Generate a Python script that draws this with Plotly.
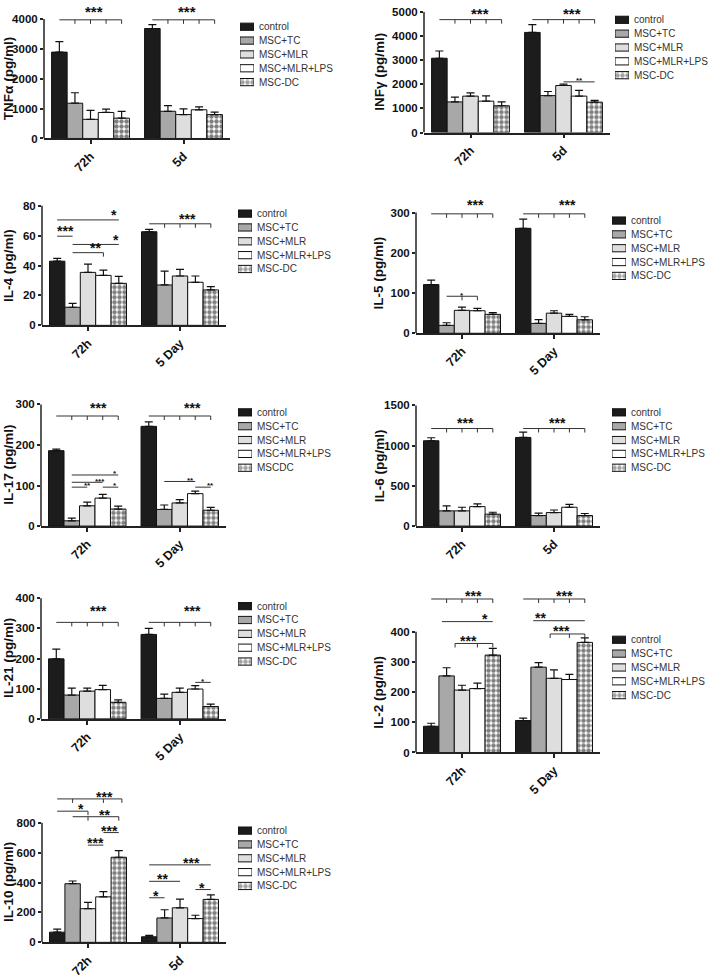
import plotly.graph_objects as go

W, H = 709, 979
FONT = "Liberation Sans, Arial, sans-serif"

# ---------------- data ----------------
SERIES = ["control", "MSC+TC", "MSC+MLR", "MSC+MLR+LPS", "MSC-DC"]
SERIES_IL17 = ["control", "MSC+TC", "MSC+MLR", "MSC+MLR+LPS", "MSCDC"]
CAT_A = ["72h", "5d"]
CAT_B = ["72h", "5 Day"]

tnfa_72h = [2890, 1180, 640, 870, 680]
tnfa_72h_sem = [350, 350, 300, 110, 230]
tnfa_5d = [3680, 910, 800, 960, 800]
tnfa_5d_sem = [130, 190, 190, 100, 80]

infg_72h = [3080, 1270, 1510, 1300, 1110]
infg_72h_sem = [300, 200, 130, 220, 160]
infg_5d = [4150, 1530, 1950, 1510, 1260]
infg_5d_sem = [320, 170, 60, 240, 70]

il4_72h = [42.9, 12.1, 35.4, 33.4, 28.1]
il4_72h_sem = [1.9, 2.6, 5.5, 3.5, 4.6]
il4_5d = [62.6, 27.0, 33.0, 28.8, 23.7]
il4_5d_sem = [1.6, 9.3, 4.4, 4.2, 2.2]

il5_72h = [121, 19.6, 57, 56, 47]
il5_72h_sem = [11, 6.5, 8, 6, 4.5]
il5_5d = [261, 24.5, 50, 42, 33.5]
il5_5d_sem = [23, 9.5, 6, 5, 7.5]

il17_72h = [186, 13, 50, 69, 42]
il17_72h_sem = [4, 6.5, 9, 9, 7]
il17_5d = [246, 41, 57, 80, 39]
il17_5d_sem = [11, 11, 8, 6, 7]

il6_72h = [1061, 189, 189, 242, 148]
il6_72h_sem = [37, 61, 45, 33, 24]
il6_5d = [1102, 131, 168, 234, 131]
il6_5d_sem = [66, 29, 32, 36, 25]

il21_72h = [199, 79, 92, 97, 55]
il21_72h_sem = [32, 23, 10, 14, 8]
il21_5d = [280, 68, 88, 99, 41]
il21_5d_sem = [20, 14, 14, 11, 8]

il2_72h = [87, 254, 207, 212, 323]
il2_72h_sem = [10, 27, 16, 18, 22]
il2_5d = [106, 283, 246, 242, 365]
il2_5d_sem = [8, 15, 28, 17, 15]

il10_72h = [68, 392, 225, 304, 569]
il10_72h_sem = [20, 18, 42, 35, 44]
il10_5d = [37, 163, 231, 159, 287]
il10_5d_sem = [9, 55, 58, 22, 30]

# significance brackets: (group, from bar, to bar, y level, label, bars with down-ticks, label at bar, kind)
tnfa_sig = [(0, 0, 4, 3970, "***", [1, 2, 3, 4], 2.2, "big"),
            (1, 0, 4, 3970, "***", [1, 2, 3, 4], 2.2, "big")]
infg_sig = [(0, 0, 4, 4680, "***", [1, 2, 3, 4], 2.6, "big"),
            (1, 0, 4, 4680, "***", [1, 2, 3, 4], 2.55, "big"),
            (1, 2, 4, 2100, "**", [], 3.0, "small")]
il4_sig = [(0, 0, 4, 70.5, "*", [], 3.7, "big"),
           (0, 0, 1, 59.6, "***", [], 0.55, "big"),
           (0, 1, 4, 54.1, "*", [], 3.8, "big"),
           (0, 1, 3, 48.6, "**", [3], 2.5, "big"),
           (1, 0, 4, 67.9, "***", [1, 2, 3, 4], 2.5, "big")]
il5_sig = [(0, 0, 4, 297, "***", [1, 2, 3, 4], 2.85, "big"),
           (1, 0, 4, 297, "***", [1, 2, 3, 4], 2.85, "big"),
           (0, 1, 3, 92, "*", [2, 3], 2.0, "small")]
il17_sig = [(0, 0, 4, 271.5, "***", [1, 2, 3, 4], 2.75, "big"),
            (1, 0, 4, 271.5, "***", [1, 2, 3, 4], 2.8, "big"),
            (0, 1, 4, 126, "*", [], 3.8, "small"),
            (0, 1, 3, 108, "***", [], 2.8, "small"),
            (0, 1, 2, 96, "**", [], 2.0, "small"),
            (0, 3, 4, 96, "*", [], 3.8, "small"),
            (1, 1, 3, 110, "**", [], 2.7, "small"),
            (1, 3, 4, 96, "**", [], 4.0, "small")]
il6_sig = [(0, 0, 4, 1213, "***", [1, 2, 3, 4], 2.2, "big"),
           (1, 0, 4, 1213, "***", [1, 2, 3, 4], 2.2, "big")]
il21_sig = [(0, 0, 4, 320, "***", [1, 2, 3, 4], 2.75, "big"),
            (1, 0, 4, 320, "***", [1, 2, 3, 4], 2.8, "big"),
            (1, 3, 4, 121, "*", [], 3.5, "small")]
il2_sig = [(0, 0, 4, 509, "***", [1, 2, 3, 4], 2.75, "big"),
           (0, 0.7, 4, 434, "*", [], 3.5, "big"),
           (0, 1.55, 4, 361.5, "***", [1.55, 3, 4], 2.4, "big"),
           (1, 0, 4, 509, "***", [1, 2, 3, 4], 2.7, "big"),
           (1, 0.65, 4, 437, "**", [], 1.1, "big"),
           (1, 1.75, 4, 393, "***", [1.75, 3, 4], 2.5, "big")]
il10_sig = [(0, 0, 4.2, 959, "***", [1, 3, 4.2], 3.1, "big"),
            (0, 0, 2, 877, "*", [2], 1.55, "big"),
            (0, 1, 4, 840, "**", [2, 4], 3.1, "big"),
            (0, 3, 4, 734, "***", [], 3.4, "big"),
            (0, 2, 3, 650, "***", [], 2.5, "big"),
            (1, 0, 4, 518, "***", [], 2.75, "big"),
            (1, 0, 2, 408, "**", [], 0.85, "big"),
            (1, 0, 1, 298, "*", [], 0.45, "big"),
            (1, 3, 4, 353, "*", [], 3.4, "big")]

# ---------------- styles ----------------
COLORS = ["#1c1c1c", "#a8a8a8", "#dedede", "#ffffff", "#ffffff"]
PATTERNS = ["", "", "", "", "."]
AX = "#222222"
BARGAP = 0.163
BW = (1 - BARGAP) / 5

panels = [
    dict(title="TNFα (pg/ml)", cats=CAT_A, m=(tnfa_72h, tnfa_5d), e=(tnfa_72h_sem, tnfa_5d_sem),
         names=SERIES, sig=tnfa_sig, ticks=[0, 1000, 2000, 3000, 4000],
         x0=44, w=186, y0=136, ytop=15, ymax=4500, lx=240, ly=23, tx=0, dy=12, fs=15),
    dict(title="INFγ (pg/ml)", cats=CAT_A, m=(infg_72h, infg_5d), e=(infg_72h_sem, infg_5d_sem),
         names=SERIES, sig=infg_sig, ticks=[0, 1000, 2000, 3000, 4000, 5000],
         x0=424, w=186, y0=130, ytop=8, ymax=5300, lx=615, ly=16, tx=371, dy=9, fs=15),
    dict(title="IL-4 (pg/ml)", cats=CAT_B, m=(il4_72h, il4_5d), e=(il4_72h_sem, il4_5d_sem),
         names=SERIES, sig=il4_sig, ticks=[0, 20, 40, 60, 80],
         x0=42, w=184, y0=325, ytop=204, ymax=84, lx=238, ly=212, tx=0, dy=8, fs=14),
    dict(title="IL-5 (pg/ml)", cats=CAT_B, m=(il5_72h, il5_5d), e=(il5_72h_sem, il5_5d_sem),
         names=SERIES, sig=il5_sig, ticks=[0, 100, 200, 300],
         x0=416, w=184, y0=333, ytop=211, ymax=345, lx=612, ly=219, tx=370, dy=12, fs=14),
    dict(title="IL-17 (pg/ml)", cats=CAT_B, m=(il17_72h, il17_5d), e=(il17_72h_sem, il17_5d_sem),
         names=SERIES_IL17, sig=il17_sig, ticks=[0, 100, 200, 300],
         x0=41, w=185, y0=528, ytop=405, ymax=310, lx=238, ly=413, tx=0, dy=11, fs=14),
    dict(title="IL-6 (pg/ml)", cats=CAT_A, m=(il6_72h, il6_5d), e=(il6_72h_sem, il6_5d_sem),
         names=SERIES, sig=il6_sig, ticks=[0, 500, 1000, 1500],
         x0=416, w=184, y0=528, ytop=406, ymax=1520, lx=612, ly=413, tx=371, dy=9, fs=14),
    dict(title="IL-21 (pg/ml)", cats=CAT_B, m=(il21_72h, il21_5d), e=(il21_72h_sem, il21_5d_sem),
         names=SERIES, sig=il21_sig, ticks=[0, 100, 200, 300, 400],
         x0=41, w=185, y0=723, ytop=601, ymax=410, lx=238, ly=609, tx=0, dy=14, fs=14),
    dict(title="IL-2 (pg/ml)", cats=CAT_B, m=(il2_72h, il2_5d), e=(il2_72h_sem, il2_5d_sem),
         names=SERIES, sig=il2_sig, ticks=[0, 100, 200, 300, 400],
         x0=416, w=184, y0=757, ytop=635, ymax=545, lx=612, ly=643, tx=370, dy=6, fs=14),
    dict(title="IL-10 (pg/ml)", cats=CAT_A, m=(il10_72h, il10_5d), e=(il10_72h_sem, il10_5d_sem),
         names=SERIES, sig=il10_sig, ticks=[0, 200, 400, 600, 800],
         x0=42, w=184, y0=949, ytop=828, ymax=1015, lx=238, ly=836, tx=0, dy=5, fs=14),
]


def bar_x(g, i):
    return g + (i - 2) * BW


fig = go.Figure()
layout = {}
shapes = []
annotations = []
NP = len(panels)
PAT = dict(fgcolor="#000000", bgcolor="white", size=5, solidity=0.62)

for k, p in enumerate(panels):
    n = k + 1
    xa = "x" if n == 1 else f"x{n}"
    ya = "y" if n == 1 else f"y{n}"
    for i, s in enumerate(p["names"]):
        fig.add_trace(go.Bar(
            x=p["cats"], y=[p["m"][0][i], p["m"][1][i]], name=s,
            xaxis=xa, yaxis=ya, showlegend=False,
            marker=dict(color=COLORS[i], line=dict(color="#111", width=1),
                        pattern=dict(shape=PATTERNS[i], **PAT)),
            error_y=dict(type="data", symmetric=False,
                         array=[p["e"][0][i], p["e"][1][i]], arrayminus=[0, 0],
                         color="#111", thickness=1.2, width=4),
        ))
    scale = (p["y0"] - p["ytop"]) / p["ticks"][-1]
    top_px = max(0, p["y0"] - p["ymax"] * scale)
    layout["xaxis" if n == 1 else f"xaxis{n}"] = dict(
        domain=[p["x0"] / W, (p["x0"] + p["w"]) / W], anchor=ya, type="category",
        range=[-0.5, 1.5], showline=True, linecolor=AX, linewidth=1.5,
        ticks="outside", ticklen=4, tickwidth=1.5, tickcolor=AX, tickangle=-45,
        tickfont=dict(family=FONT, size=12.5, weight="bold", color="#111"),
        showgrid=False, zeroline=False, fixedrange=True)
    layout["yaxis" if n == 1 else f"yaxis{n}"] = dict(
        domain=[1 - p["y0"] / H, 1 - top_px / H], anchor=xa,
        range=[0, p["ymax"]], showline=False, tickvals=p["ticks"],
        ticks="outside", ticklen=3, tickwidth=1.5, tickcolor=AX,
        tickfont=dict(family=FONT, size=11.5, weight="bold", color="#111"),
        showgrid=False, zeroline=False, fixedrange=True)
    # y axis line only up to the last tick
    shapes.append(dict(type="line", xref=f"{xa} domain", yref=ya, x0=0, x1=0,
                       y0=0, y1=p["ticks"][-1], line=dict(color=AX, width=1.5)))
    # y title
    annotations.append(dict(xref="paper", yref="paper", x=p["tx"] / W,
                            y=1 - (p["y0"] + p["ytop"]) / 2 / H, text=p["title"],
                            textangle=-90, showarrow=False, xanchor="left", yanchor="middle",
                            borderpad=0,
                            font=dict(family=FONT, size=13.5, weight="bold", color="#111")))
    # significance brackets
    for (g, a, b, yv, lab, tks, lp, kind) in p["sig"]:
        shapes.append(dict(type="line", xref=xa, yref=ya, x0=bar_x(g, a), x1=bar_x(g, b),
                           y0=yv, y1=yv, line=dict(color="#333", width=1)))
        for t in tks:
            shapes.append(dict(type="line", xref=xa, yref=ya, x0=bar_x(g, t), x1=bar_x(g, t),
                               ysizemode="pixel", yanchor=yv, y0=-4, y1=0,
                               line=dict(color="#333", width=1)))
        if kind == "big":
            fs, dy = p["fs"], p["dy"]
        else:
            fs, dy = 8, 3
        annotations.append(dict(xref=xa, yref=ya, x=bar_x(g, lp), y=yv, text=lab,
                                showarrow=False, xanchor="center", yanchor="middle",
                                yshift=dy - 0.22 * fs,
                                font=dict(family=FONT, size=fs, weight="bold", color="#111")))

    # legend drawn as a small horizontal bar chart with labels on the right
    m = NP + n
    lxa, lya = f"x{m}", f"y{m}"
    fig.add_trace(go.Bar(
        x=[1] * 5, y=p["names"], orientation="h", width=0.52,
        xaxis=lxa, yaxis=lya, showlegend=False, hoverinfo="skip",
        marker=dict(color=COLORS, line=dict(color="#111", width=1),
                    pattern=dict(shape=PATTERNS, **PAT)),
    ))
    layout[f"xaxis{m}"] = dict(domain=[p["lx"] / W, (p["lx"] + 14) / W], anchor=lya,
                               range=[0, 1], visible=False, fixedrange=True)
    layout[f"yaxis{m}"] = dict(domain=[1 - (p["ly"] + 63) / H, 1 - (p["ly"] - 7) / H],
                               anchor=lxa, side="right", type="category",
                               range=[4.5, -0.5], showline=False, ticks="", showgrid=False,
                               zeroline=False, ticklabelstandoff=4, fixedrange=True,
                               tickfont=dict(family=FONT, size=10, color="#333"))

fig.update_layout(
    width=W, height=H, margin=dict(l=0, r=0, t=0, b=0),
    paper_bgcolor="white", plot_bgcolor="white",
    barmode="group", bargap=BARGAP, bargroupgap=0,
    font=dict(family=FONT, color="#111"),
    shapes=shapes, annotations=annotations, showlegend=False,
    **layout)

fig.write_html("out.html", config={"displayModeBar": False},
               post_script="document.body.style.margin='0px';")
